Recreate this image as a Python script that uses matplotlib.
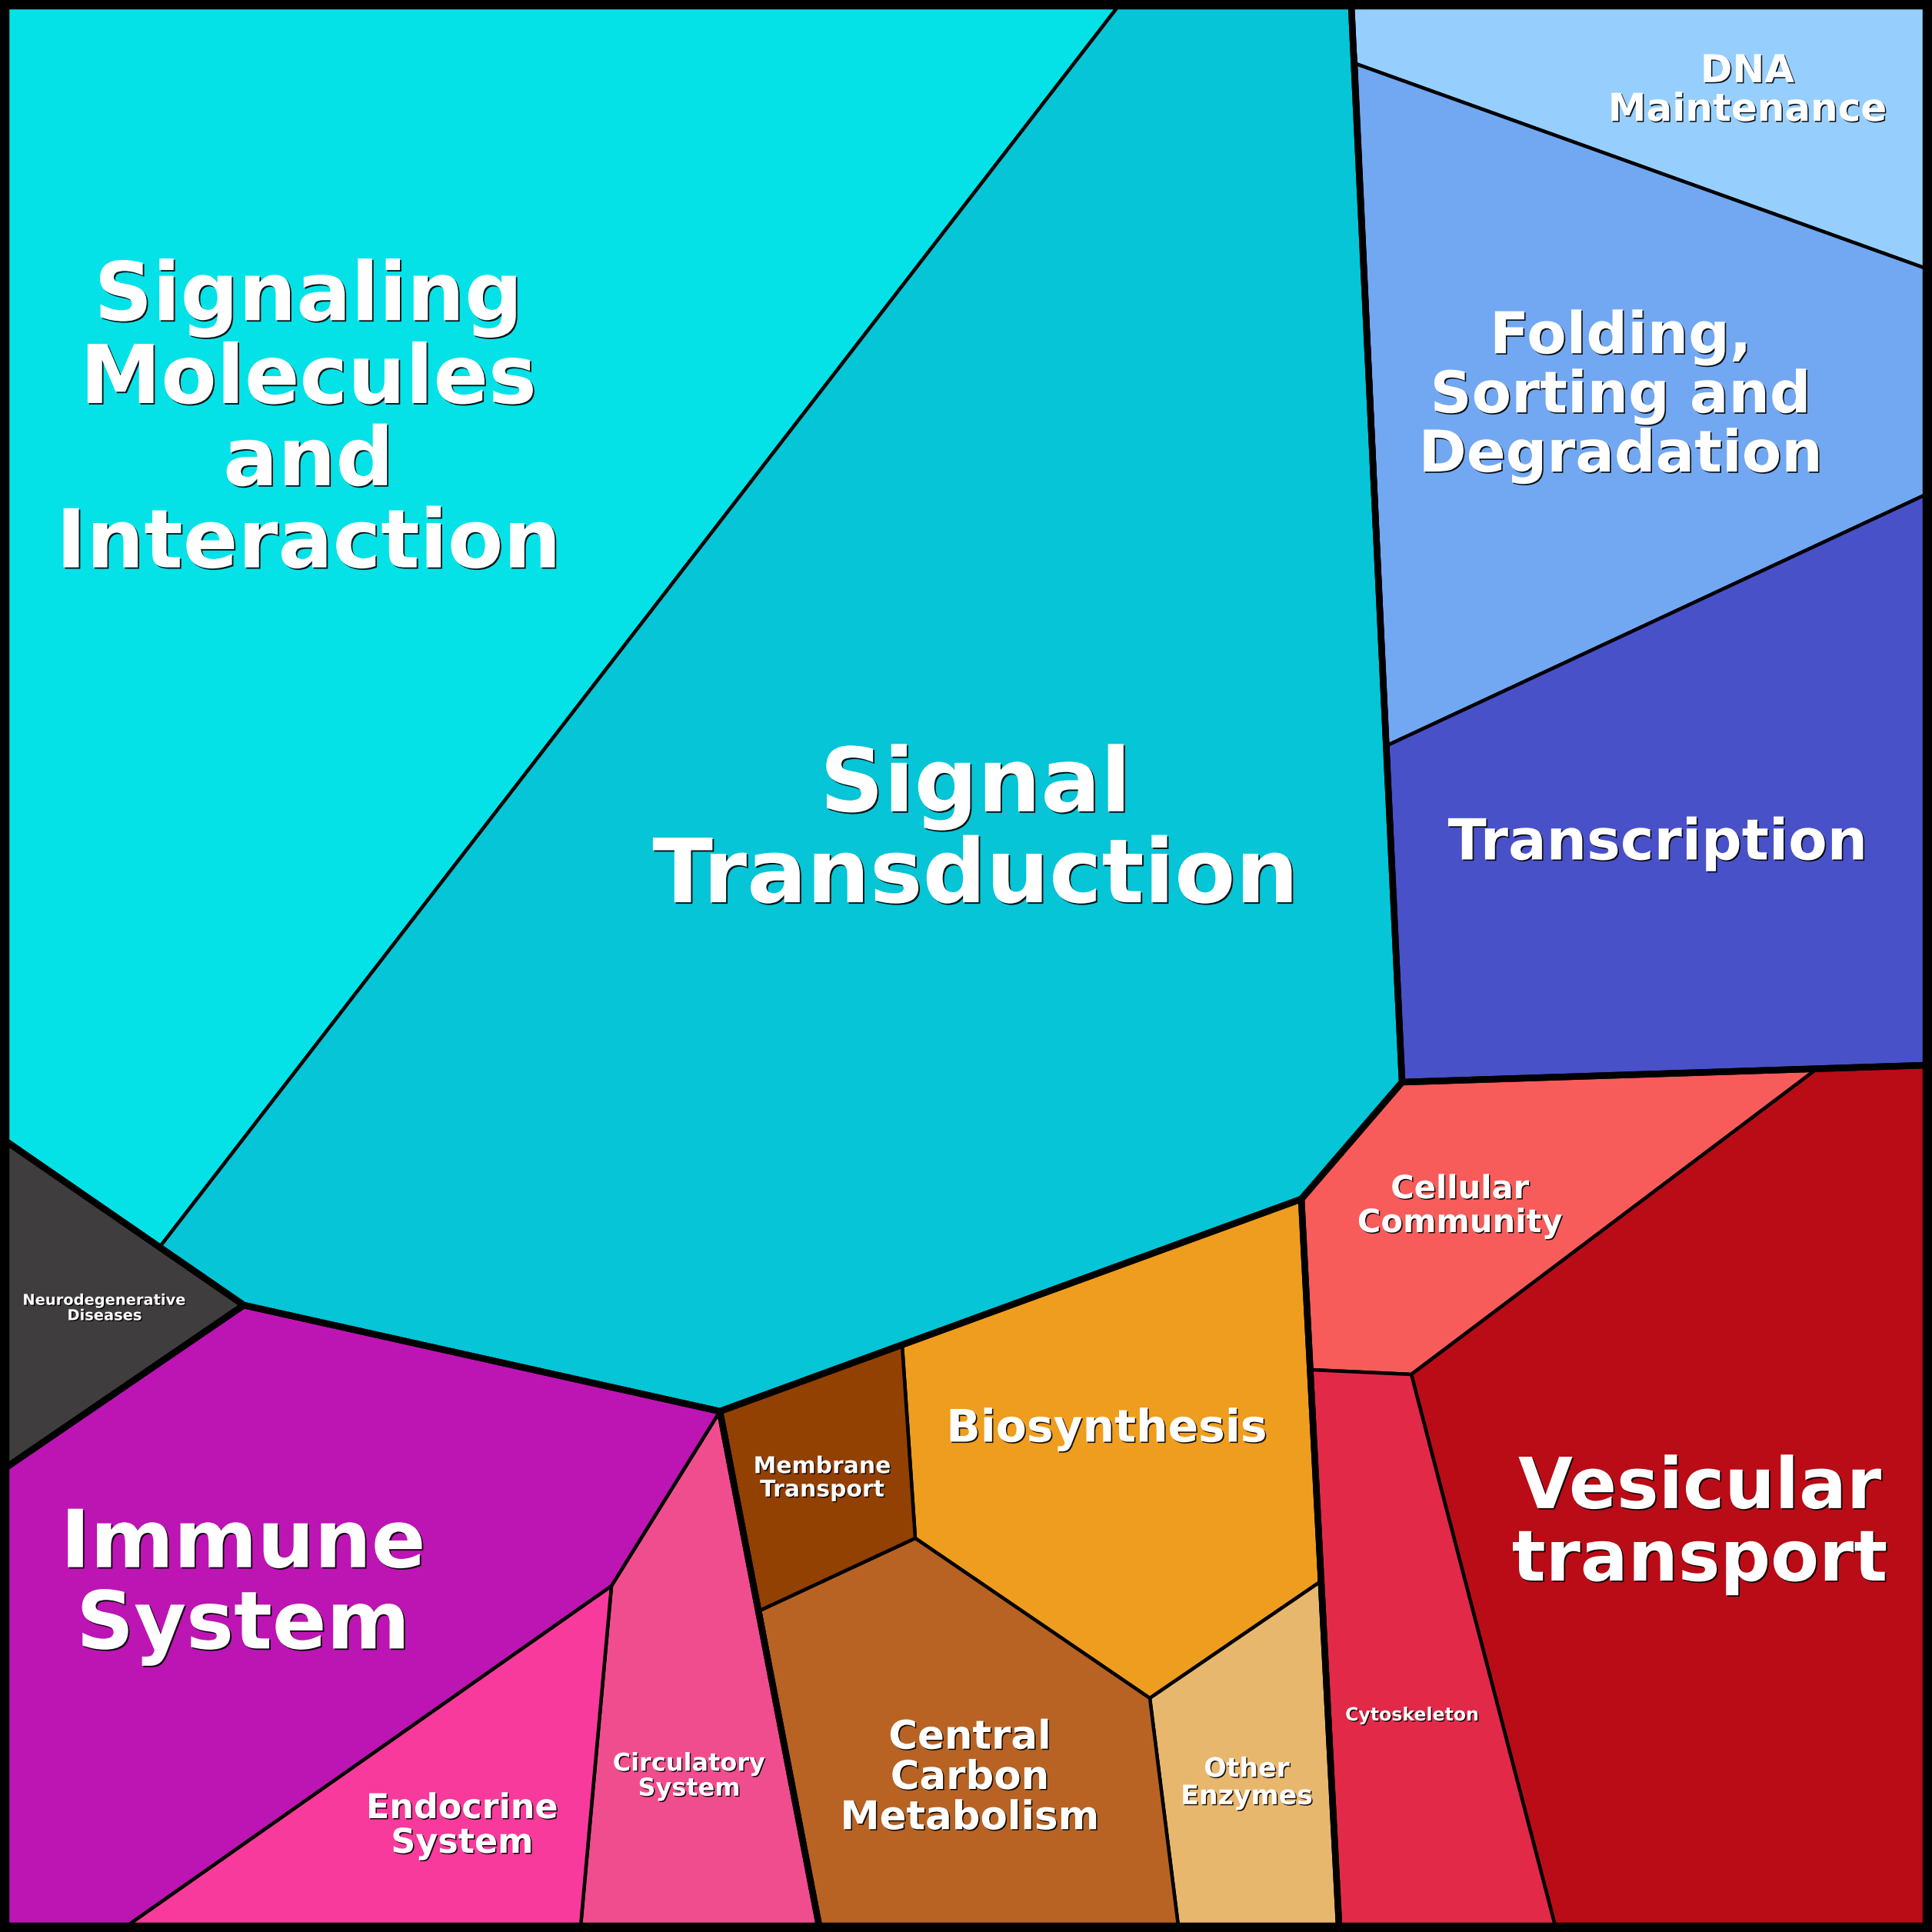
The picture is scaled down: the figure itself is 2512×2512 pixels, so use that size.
import matplotlib
matplotlib.use("Agg")
import matplotlib.pyplot as plt
from matplotlib.patches import Polygon
import matplotlib.patheffects as pe

# ---------------- data ----------------
# shared cell vertices (pixel space of the 2512 x 2512 canvas, y downward;
# the drawable area inside the frame runs from 8 to 2504)
vertices = {
    "TL": (8, 8), "TR": (2504, 8), "BR": (2504, 2504), "BL": (8, 2504),
    "A": (1454, 8), "B": (1757, 8),
    "Kl": (1763, 83), "Kr": (2504, 349),
    "Ll": (1804, 969), "Lr": (2504, 643),
    "I": (1823, 1407), "J": (2504, 1385), "M": (2362, 1390),
    "H": (1692, 1559), "N": (1835, 1787), "O": (1705, 1781),
    "P": (2022, 2504), "Q": (1741, 2504), "R": (1716, 2057),
    "S": (1495, 2208), "T": (1532, 2504), "U": (1190, 2000),
    "V": (1173, 1749), "W": (988, 2094), "X": (1065, 2504),
    "G": (936, 1835), "Y": (795, 2062), "Z": (755, 2504),
    "Eb": (165, 2504), "D": (317, 1697), "C": (208, 1621),
    "E": (8, 1484), "F": (8, 1908),
}

categories = [
    "Signaling\nMolecules\nand\nInteraction", "Signal\nTransduction",
    "DNA\nMaintenance", "Folding,\nSorting and\nDegradation", "Transcription",
    "Cellular\nCommunity", "Vesicular\ntransport", "Cytoskeleton",
    "Biosynthesis", "Other\nEnzymes", "Central\nCarbon\nMetabolism",
    "Membrane\nTransport", "Circulatory\nSystem", "Endocrine\nSystem",
    "Immune\nSystem", "Neurodegenerative\nDiseases",
]
cells = [
    ["TL", "A", "C", "E"],
    ["A", "B", "I", "H", "G", "D", "C"],
    ["B", "TR", "Kr", "Kl"],
    ["Kl", "Kr", "Lr", "Ll"],
    ["Ll", "Lr", "J", "I"],
    ["I", "M", "N", "O", "H"],
    ["M", "J", "BR", "P", "N"],
    ["O", "N", "P", "Q"],
    ["V", "H", "R", "S", "U"],
    ["S", "R", "Q", "T"],
    ["W", "U", "S", "T", "X"],
    ["G", "V", "U", "W"],
    ["G", "W", "X", "Z", "Y"],
    ["Y", "Z", "Eb"],
    ["F", "D", "G", "Y", "Eb", "BL"],
    ["E", "D", "F"],
]
colors = [
    "#04E2E8", "#05C5D6", "#96CFFE", "#72A8F2", "#4951C8",
    "#F75C5B", "#B90C16", "#E22A48", "#EE9D1E", "#E8B76E",
    "#B86323", "#934003", "#F04D8F", "#F73A9B", "#BC15B4", "#403D3E",
]
# top-level groups (outlined with heavier lines)
groups = [
    ["TL", "B", "I", "H", "G", "D", "E"],
    ["B", "TR", "J", "I"],
    ["I", "J", "BR", "Q", "H"],
    ["G", "H", "Q", "X"],
    ["D", "G", "X", "BL", "F"],
    ["E", "D", "F"],
]
# label anchors and font sizes
label_pos = [
    (401, 548), (1268, 1082), (2272, 118), (2107, 516), (2155, 1097),
    (1898, 1568), (2210, 1982), (1836, 2230), (1439, 1858), (1621, 2318),
    (1261, 2312), (1069, 1922), (896, 2310), (601, 2374), (316, 2062),
    (136, 1701),
]
label_size = [76, 83, 36, 54, 53, 30, 66, 17, 42, 25, 37, 21.5, 23, 32, 75, 14]

# ---------------- drawing ----------------
DPI = 100
fig = plt.figure(figsize=(25.12, 25.12), dpi=DPI)
ax = fig.add_axes([0, 0, 1, 1])
ax.set_xlim(0, 2512)
ax.set_ylim(2512, 0)
ax.axis("off")

px = 72.0 / DPI  # points per pixel
thin = 4.5 * px
thick = 8.5 * px

for name, cell, col in zip(categories, cells, colors):
    pts = [vertices[v] for v in cell]
    ax.add_patch(Polygon(pts, closed=True, facecolor=col, edgecolor="black",
                         linewidth=thin, joinstyle="round"))

for grp in groups:
    pts = [vertices[v] for v in grp]
    ax.add_patch(Polygon(pts, closed=True, facecolor="none", edgecolor="black",
                         linewidth=thick, joinstyle="round"))

# outer frame
ax.add_patch(Polygon([(0, 0), (2512, 0), (2512, 2512), (0, 2512)], closed=True,
                     facecolor="none", edgecolor="black", linewidth=18 * px,
                     clip_on=False))

for name, (x, y), fs in zip(categories, label_pos, label_size):
    off = 0.9 + fs * 0.006
    ax.text(x, y, name, ha="center", va="center", fontsize=fs,
            fontweight="bold", color="white", family="DejaVu Sans",
            multialignment="center", linespacing=1.06,
            path_effects=[pe.withSimplePatchShadow(offset=(off, -off),
                                                   shadow_rgbFace="black", alpha=0.9)])

fig.savefig("out.png", dpi=DPI)
